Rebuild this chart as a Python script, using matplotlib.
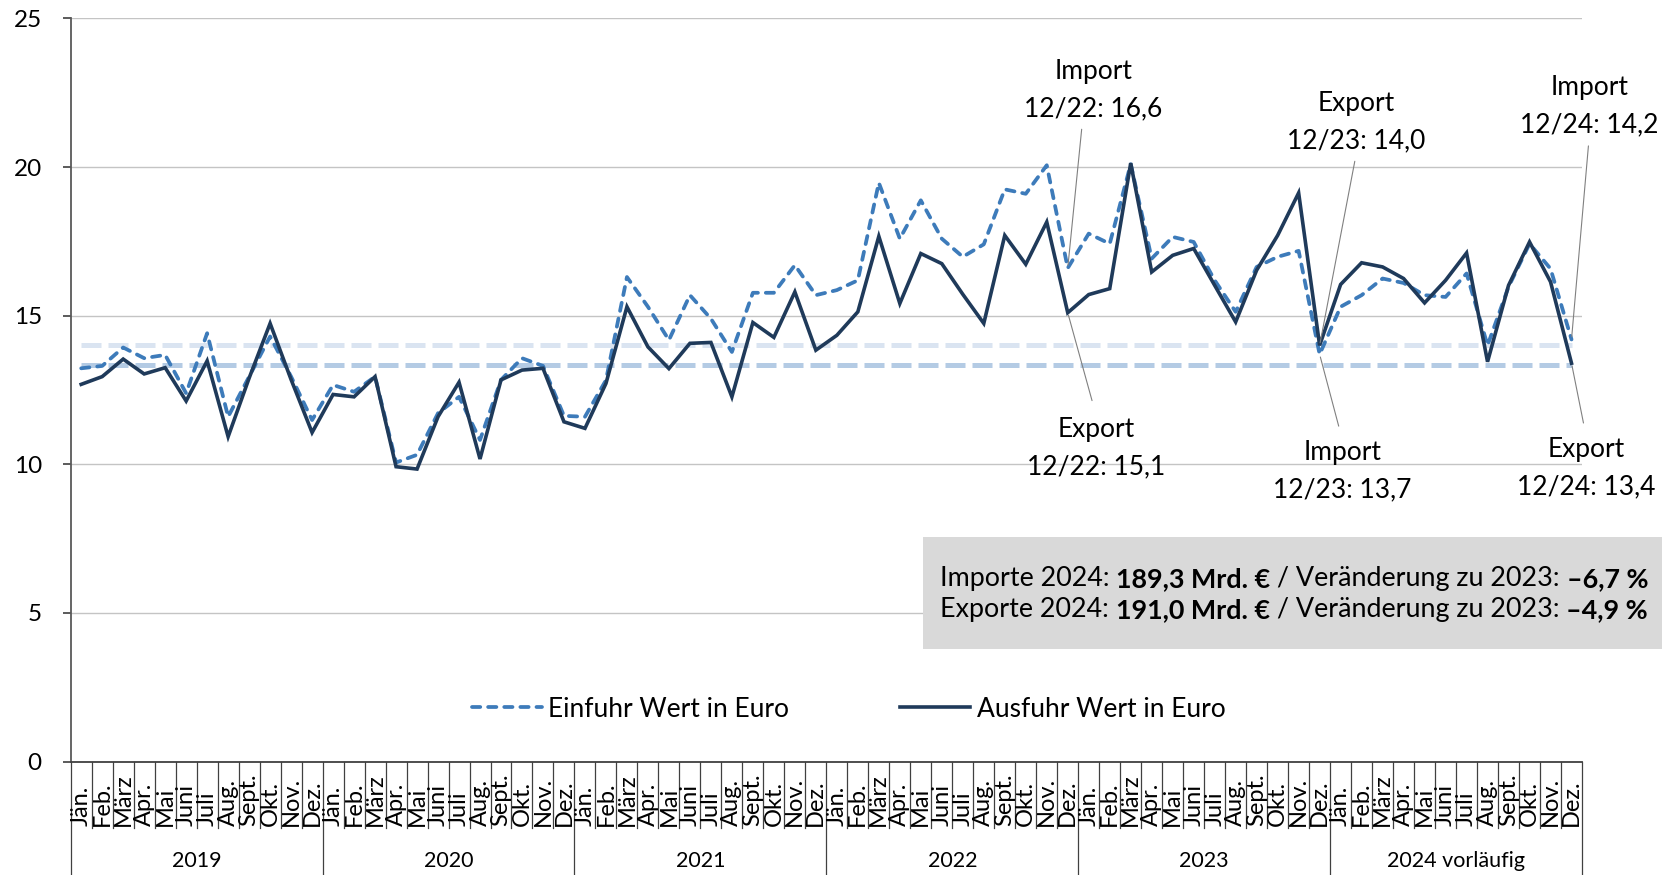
import matplotlib.pyplot as plt
from matplotlib import transforms
from matplotlib.patches import Rectangle
from matplotlib.text import Annotation

plt.rcParams['font.family'] = ['Lato', 'DejaVu Sans']

monate = ["Jän.", "Feb.", "März", "Apr.", "Mai", "Juni", "Juli", "Aug.", "Sept.", "Okt.", "Nov.", "Dez."]
jahre = ["2019", "2020", "2021", "2022", "2023", "2024 vorläufig"]

# Mrd. Euro je Monat
einfuhr = [13.23, 13.31, 13.93, 13.57, 13.68, 12.39, 14.41, 11.60, 12.95, 14.30, 12.95, 11.49,
           12.67, 12.44, 12.95, 10.06, 10.32, 11.72, 12.27, 10.82, 12.84, 13.57, 13.31, 11.63,
           11.60, 12.83, 16.30, 15.30, 14.18, 15.69, 14.90, 13.78, 15.77, 15.77, 16.70, 15.69,
           15.86, 16.19, 19.47, 17.59, 18.88, 17.59, 16.98, 17.40, 19.25, 19.10, 20.06, 16.60,
           17.76, 17.42, 20.10, 16.92, 17.65, 17.48, 16.19, 15.13, 16.64, 16.98, 17.18, 13.70,
           15.30, 15.69, 16.25, 16.10, 15.69, 15.63, 16.42, 14.00, 15.97, 17.42, 16.58, 14.20]
ausfuhr = [12.69, 12.95, 13.54, 13.04, 13.25, 12.13, 13.48, 10.93, 12.90, 14.74, 12.85, 11.07,
           12.35, 12.27, 12.95, 9.92, 9.84, 11.60, 12.76, 10.18, 12.84, 13.17, 13.23, 11.43,
           11.21, 12.72, 15.30, 13.95, 13.22, 14.07, 14.10, 12.27, 14.77, 14.27, 15.80, 13.84,
           14.34, 15.13, 17.67, 15.41, 17.09, 16.75, 15.72, 14.74, 17.70, 16.73, 18.15, 15.10,
           15.71, 15.91, 20.13, 16.47, 17.03, 17.26, 16.02, 14.79, 16.53, 17.70, 19.13, 14.00,
           16.05, 16.78, 16.64, 16.25, 15.43, 16.19, 17.11, 13.45, 16.02, 17.48, 16.14, 13.40]

referenz = [14.0, 13.35]
referenz_farben = ["#DAE4F1", "#B4CBE4"]

box_zeilen = [
    [("Importe 2024: ", "normal"), ("189,3 Mrd. €", "bold"), (" / Veränderung zu 2023: ", "normal"), ("–6,7 %", "bold")],
    [("Exporte 2024: ", "normal"), ("191,0 Mrd. €", "bold"), (" / Veränderung zu 2023: ", "normal"), ("–4,9 %", "bold")],
]

fig = plt.figure(figsize=(16.62, 8.75), dpi=100)
ax = fig.add_axes([0.04254, 0.1296, 0.90933, 0.84937])
x = list(range(len(einfuhr)))

for wert, farbe in zip(referenz, referenz_farben):
    ax.plot([x[0], x[-1]], [wert, wert], color=farbe, lw=3.6, dashes=(4, 1.4),
            dash_capstyle="butt", zorder=2)

ax.plot(x, einfuhr, color="#3D7BBA", lw=2.7, dashes=(2.2, 2.1), dash_capstyle="round",
        label="Einfuhr Wert in Euro", zorder=3)
ax.plot(x, ausfuhr, color="#1F3A5A", lw=2.6, solid_joinstyle="miter",
        label="Ausfuhr Wert in Euro", zorder=4)

ax.set_xlim(-0.5, len(x) - 0.5)
ax.set_ylim(0, 25)
ax.set_yticks(range(0, 26, 5))
ax.yaxis.grid(True, color="#C4C4C4", lw=1.0)
ax.set_axisbelow(True)
ax.tick_params(axis="y", labelsize=17.5, length=5.8, width=1.2, pad=15, color="#404040")
ax.set_xticks([])
for s in ["top", "right"]:
    ax.spines[s].set_visible(False)
ax.spines["left"].set_color("#595959")
ax.spines["left"].set_linewidth(1.3)
ax.spines["bottom"].set_color("#404040")
ax.spines["bottom"].set_linewidth(1.3)

# Kategorienachse mit Monaten und Jahren
trans = transforms.blended_transform_factory(ax.transData, fig.transFigure)
y_achse = 0.1296
y_monat = (875 - 828) / 875
for i in range(len(x) + 1):
    unten = 0.0 if i % 12 == 0 else y_monat
    ax.plot([i - 0.5, i - 0.5], [unten, y_achse], transform=trans, color="#404040",
            lw=0.9, clip_on=False)
for i in x:
    ax.text(i, (875 - 826) / 875, monate[i % 12], transform=trans, rotation=90,
            rotation_mode="anchor", ha="left", va="center", fontsize=17, clip_on=False)
for k, jahr in enumerate(jahre):
    ax.text(12 * k + 5.5, (875 - 861) / 875, jahr, transform=trans, ha="center",
            va="center", fontsize=15.5, clip_on=False)

# Beschriftungen der Dezemberwerte
def fmt(v):
    return f"{v:.1f}".replace(".", ",")

anmerkungen = [
    ("Import", "12/22", 47, einfuhr, (48.23, 22.60), (0.42, 0.0), 4),
    ("Export", "12/22", 47, ausfuhr, (48.37, 10.55), (0.5, 1.0), 10),
    ("Export", "12/23", 59, ausfuhr, (60.75, 21.52), (0.5, 0.0), 4),
    ("Import", "12/23", 59, einfuhr, (60.08, 9.78), (0.5, 1.0), 8),
    ("Import", "12/24", 71, einfuhr, (71.84, 22.04), (0.5, 0.0), 4),
    ("Export", "12/24", 71, ausfuhr, (71.70, 9.88), (0.5, 1.0), 8),
]
for name, monat, idx, reihe, pos, rel, shr in anmerkungen:
    ax.annotate(f"{name}\n{monat}: {fmt(reihe[idx])}", xy=(idx, reihe[idx]), xytext=pos,
                ha="center", va="center", fontsize=19, linespacing=1.62,
                annotation_clip=False, zorder=6,
                arrowprops=dict(arrowstyle="-", color="#808080", lw=0.8,
                                shrinkA=shr, shrinkB=2, relpos=rel))

ax.legend(loc="center", bbox_to_anchor=(848.5 / 1662, 0.1897), bbox_transform=fig.transFigure,
          ncol=2, frameon=False, fontsize=19, handlelength=2.65, handletextpad=0.25,
          columnspacing=4.2, borderpad=0)

# graue Infobox
fig.add_artist(Rectangle((923 / 1662, (875 - 649) / 875), (1662 - 923) / 1662, 112 / 875,
                         transform=fig.transFigure, facecolor="#D9D9D9", edgecolor="none",
                         zorder=5))
zeilen_y = [(875 - 576) / 875, (875 - 607) / 875]
for zeile, yy in zip(box_zeilen, zeilen_y):
    vorher = None
    for text, gewicht in zeile:
        if vorher is None:
            vorher = fig.text(940 / 1662, yy, text, fontsize=19.4, fontweight=gewicht,
                              ha="left", va="center_baseline", zorder=6)
        else:
            vorher = fig.add_artist(Annotation(text, xy=(1, 0), xycoords=vorher,
                                               ha="left", va="bottom", fontsize=19.4,
                                               fontweight=gewicht, zorder=6))

fig.savefig("out.png", dpi=100)
